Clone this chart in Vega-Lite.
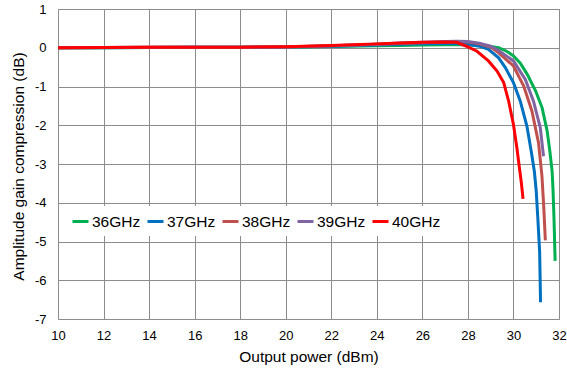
{
  "$schema": "https://vega.github.io/schema/vega-lite/v6.json",
  "width": 501,
  "height": 310,
  "autosize": {"type": "none"},
  "padding": {"left": 58, "top": 9, "right": 8, "bottom": 49},
  "config": {
    "font": "Liberation Sans",
    "view": {"stroke": "#a6a6a6", "strokeWidth": 1}
  },
  "data": {
    "values": [
      {"freq": "36GHz", "power": 10, "gain": 0},
      {"freq": "36GHz", "power": 12, "gain": 0},
      {"freq": "36GHz", "power": 14, "gain": 0.005},
      {"freq": "36GHz", "power": 16, "gain": 0.01},
      {"freq": "36GHz", "power": 18, "gain": 0.01},
      {"freq": "36GHz", "power": 20, "gain": 0.015},
      {"freq": "36GHz", "power": 22, "gain": 0.03},
      {"freq": "36GHz", "power": 24, "gain": 0.05},
      {"freq": "36GHz", "power": 25, "gain": 0.06},
      {"freq": "36GHz", "power": 26, "gain": 0.07},
      {"freq": "36GHz", "power": 27, "gain": 0.08},
      {"freq": "36GHz", "power": 28, "gain": 0.08},
      {"freq": "36GHz", "power": 28.5, "gain": 0.06},
      {"freq": "36GHz", "power": 29, "gain": 0.03},
      {"freq": "36GHz", "power": 29.35, "gain": 0},
      {"freq": "36GHz", "power": 29.7, "gain": -0.09},
      {"freq": "36GHz", "power": 30, "gain": -0.21},
      {"freq": "36GHz", "power": 30.3, "gain": -0.4},
      {"freq": "36GHz", "power": 30.6, "gain": -0.68},
      {"freq": "36GHz", "power": 30.97, "gain": -1.11},
      {"freq": "36GHz", "power": 31.26, "gain": -1.55},
      {"freq": "36GHz", "power": 31.48, "gain": -2.15},
      {"freq": "36GHz", "power": 31.6, "gain": -2.68},
      {"freq": "36GHz", "power": 31.7, "gain": -3.2},
      {"freq": "36GHz", "power": 31.74, "gain": -3.7},
      {"freq": "36GHz", "power": 31.78, "gain": -4.4},
      {"freq": "36GHz", "power": 31.83, "gain": -5.5},

      {"freq": "37GHz", "power": 10, "gain": 0},
      {"freq": "37GHz", "power": 12, "gain": 0},
      {"freq": "37GHz", "power": 14, "gain": 0.005},
      {"freq": "37GHz", "power": 16, "gain": 0.01},
      {"freq": "37GHz", "power": 18, "gain": 0.01},
      {"freq": "37GHz", "power": 20, "gain": 0.02},
      {"freq": "37GHz", "power": 22, "gain": 0.04},
      {"freq": "37GHz", "power": 24, "gain": 0.07},
      {"freq": "37GHz", "power": 25, "gain": 0.09},
      {"freq": "37GHz", "power": 26, "gain": 0.1},
      {"freq": "37GHz", "power": 27, "gain": 0.11},
      {"freq": "37GHz", "power": 27.5, "gain": 0.11},
      {"freq": "37GHz", "power": 28, "gain": 0.09},
      {"freq": "37GHz", "power": 28.5, "gain": 0.04},
      {"freq": "37GHz", "power": 28.9, "gain": -0.04},
      {"freq": "37GHz", "power": 29.35, "gain": -0.26},
      {"freq": "37GHz", "power": 29.65, "gain": -0.52},
      {"freq": "37GHz", "power": 30, "gain": -0.9},
      {"freq": "37GHz", "power": 30.3, "gain": -1.38},
      {"freq": "37GHz", "power": 30.59, "gain": -2.02},
      {"freq": "37GHz", "power": 30.78, "gain": -2.67},
      {"freq": "37GHz", "power": 30.92, "gain": -3.2},
      {"freq": "37GHz", "power": 31.0, "gain": -3.7},
      {"freq": "37GHz", "power": 31.07, "gain": -4.4},
      {"freq": "37GHz", "power": 31.15, "gain": -5.26},
      {"freq": "37GHz", "power": 31.19, "gain": -6.57},

      {"freq": "38GHz", "power": 10, "gain": 0},
      {"freq": "38GHz", "power": 12, "gain": 0.005},
      {"freq": "38GHz", "power": 14, "gain": 0.01},
      {"freq": "38GHz", "power": 16, "gain": 0.01},
      {"freq": "38GHz", "power": 18, "gain": 0.015},
      {"freq": "38GHz", "power": 20, "gain": 0.02},
      {"freq": "38GHz", "power": 22, "gain": 0.05},
      {"freq": "38GHz", "power": 24, "gain": 0.09},
      {"freq": "38GHz", "power": 25, "gain": 0.11},
      {"freq": "38GHz", "power": 26, "gain": 0.13},
      {"freq": "38GHz", "power": 27, "gain": 0.15},
      {"freq": "38GHz", "power": 27.5, "gain": 0.16},
      {"freq": "38GHz", "power": 28, "gain": 0.15},
      {"freq": "38GHz", "power": 28.5, "gain": 0.1},
      {"freq": "38GHz", "power": 29, "gain": 0.02},
      {"freq": "38GHz", "power": 29.35, "gain": -0.13},
      {"freq": "38GHz", "power": 30, "gain": -0.47},
      {"freq": "38GHz", "power": 30.45, "gain": -0.99},
      {"freq": "38GHz", "power": 30.81, "gain": -1.63},
      {"freq": "38GHz", "power": 31.1, "gain": -2.45},
      {"freq": "38GHz", "power": 31.25, "gain": -3.3},
      {"freq": "38GHz", "power": 31.33, "gain": -4.1},
      {"freq": "38GHz", "power": 31.4, "gain": -4.97},

      {"freq": "39GHz", "power": 10, "gain": 0},
      {"freq": "39GHz", "power": 12, "gain": 0.005},
      {"freq": "39GHz", "power": 14, "gain": 0.01},
      {"freq": "39GHz", "power": 16, "gain": 0.01},
      {"freq": "39GHz", "power": 18, "gain": 0.015},
      {"freq": "39GHz", "power": 20, "gain": 0.02},
      {"freq": "39GHz", "power": 22, "gain": 0.05},
      {"freq": "39GHz", "power": 24, "gain": 0.09},
      {"freq": "39GHz", "power": 25, "gain": 0.12},
      {"freq": "39GHz", "power": 26, "gain": 0.14},
      {"freq": "39GHz", "power": 27, "gain": 0.16},
      {"freq": "39GHz", "power": 27.5, "gain": 0.17},
      {"freq": "39GHz", "power": 28, "gain": 0.16},
      {"freq": "39GHz", "power": 28.5, "gain": 0.12},
      {"freq": "39GHz", "power": 29, "gain": 0.04},
      {"freq": "39GHz", "power": 29.35, "gain": -0.07},
      {"freq": "39GHz", "power": 30, "gain": -0.34},
      {"freq": "39GHz", "power": 30.52, "gain": -0.82},
      {"freq": "39GHz", "power": 30.88, "gain": -1.38},
      {"freq": "39GHz", "power": 31.18, "gain": -2.07},
      {"freq": "39GHz", "power": 31.32, "gain": -2.8},

      {"freq": "40GHz", "power": 10, "gain": 0},
      {"freq": "40GHz", "power": 12, "gain": 0.005},
      {"freq": "40GHz", "power": 14, "gain": 0.01},
      {"freq": "40GHz", "power": 16, "gain": 0.01},
      {"freq": "40GHz", "power": 18, "gain": 0.015},
      {"freq": "40GHz", "power": 20, "gain": 0.025},
      {"freq": "40GHz", "power": 22, "gain": 0.06},
      {"freq": "40GHz", "power": 24, "gain": 0.1},
      {"freq": "40GHz", "power": 25, "gain": 0.12},
      {"freq": "40GHz", "power": 26, "gain": 0.14},
      {"freq": "40GHz", "power": 27, "gain": 0.15},
      {"freq": "40GHz", "power": 27.5, "gain": 0.14},
      {"freq": "40GHz", "power": 28, "gain": 0.02},
      {"freq": "40GHz", "power": 28.4, "gain": -0.09},
      {"freq": "40GHz", "power": 28.9, "gain": -0.34},
      {"freq": "40GHz", "power": 29.28, "gain": -0.6},
      {"freq": "40GHz", "power": 29.57, "gain": -0.9},
      {"freq": "40GHz", "power": 29.79, "gain": -1.38},
      {"freq": "40GHz", "power": 30, "gain": -1.98},
      {"freq": "40GHz", "power": 30.15, "gain": -2.58},
      {"freq": "40GHz", "power": 30.26, "gain": -3.09},
      {"freq": "40GHz", "power": 30.35, "gain": -3.5},
      {"freq": "40GHz", "power": 30.42, "gain": -3.9}
    ]
  },
  "mark": {"type": "line", "strokeWidth": 3, "interpolate": "linear"},
  "encoding": {
    "x": {
      "field": "power",
      "type": "quantitative",
      "scale": {"domain": [10, 32], "nice": false, "zero": false},
      "axis": {
        "title": "Output power (dBm)",
        "values": [10, 12, 14, 16, 18, 20, 22, 24, 26, 28, 30, 32],
        "grid": true,
        "gridColor": "#8c8c8c",
        "gridWidth": 1,
        "ticks": false,
        "domain": false,
        "labelFlush": false,
        "labelFontSize": 13,
        "labelColor": "#000000",
        "labelPadding": 10,
        "titleFontSize": 15.5,
        "titleFontWeight": "normal",
        "titleColor": "#000000",
        "titleBaseline": "alphabetic",
        "titleY": 42
      }
    },
    "y": {
      "field": "gain",
      "type": "quantitative",
      "scale": {"domain": [-7, 1], "nice": false, "zero": false},
      "axis": {
        "title": "Amplitude gain compression (dB)",
        "values": [-7, -6, -5, -4, -3, -2, -1, 0, 1],
        "labelExpr": "toString(datum.value)",
        "grid": true,
        "gridColor": "#8c8c8c",
        "gridWidth": 1,
        "ticks": false,
        "domain": false,
        "labelFlush": false,
        "labelFontSize": 13,
        "labelColor": "#000000",
        "labelPadding": 12,
        "titleFontSize": 15.5,
        "titleFontWeight": "normal",
        "titleColor": "#000000",
        "titleBaseline": "alphabetic",
        "titleX": -35,
        "titleY": 157
      }
    },
    "color": {
      "field": "freq",
      "type": "nominal",
      "scale": {
        "domain": ["36GHz", "37GHz", "38GHz", "39GHz", "40GHz"],
        "range": ["#00B050", "#0070C0", "#C0504D", "#8064A2", "#FF0000"]
      },
      "legend": {
        "title": null,
        "orient": "none",
        "legendX": 7,
        "legendY": 197,
        "direction": "horizontal",
        "symbolType": "stroke",
        "symbolSize": 256,
        "symbolStrokeWidth": 3,
        "labelFontSize": 15.5,
        "labelColor": "#000000",
        "labelOffset": 2,
        "columnPadding": 0,
        "padding": 6,
        "fillColor": "#ffffff"
      }
    }
  }
}
